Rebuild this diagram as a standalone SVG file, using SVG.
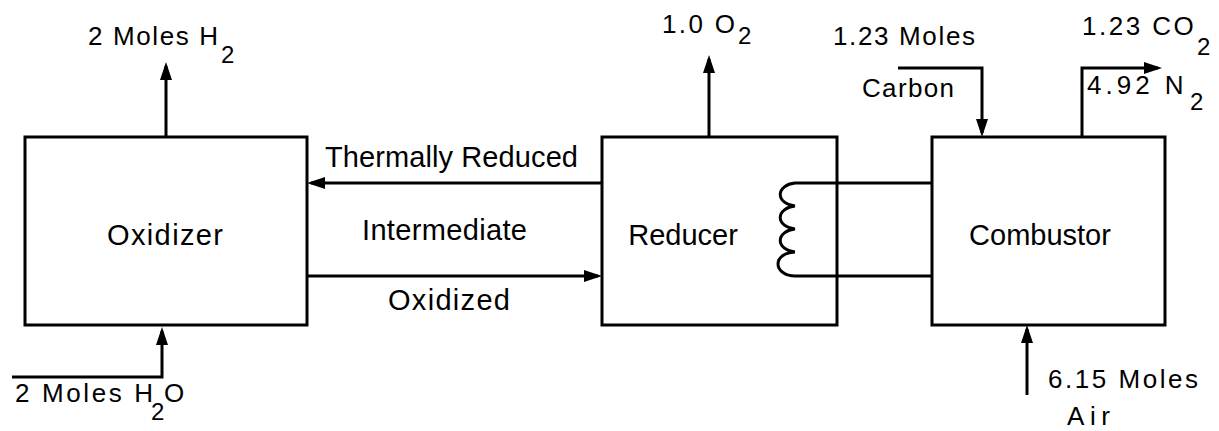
<svg xmlns="http://www.w3.org/2000/svg" width="1219" height="431" viewBox="0 0 1219 431">
<style>
.box{fill:none;stroke:#000;stroke-width:3}
.ln{fill:none;stroke:#000;stroke-width:3;stroke-linejoin:miter}
.t{font-family:"Liberation Sans",Arial,sans-serif;font-size:26px;fill:#000}
.b{font-family:"Liberation Sans",Arial,sans-serif;font-size:29px;fill:#000}
.s{font-size:24px;letter-spacing:0}
</style>
<defs>
<marker id="ah" viewBox="0 0 18 12" markerWidth="18" markerHeight="12" refX="14" refY="6" orient="auto" markerUnits="userSpaceOnUse">
<path d="M0,0 L18,6 L0,12 z" fill="#000"/>
</marker>
</defs>
<rect width="1219" height="431" fill="#fff"/>
<g id="oxidizer">
<rect class="box" x="25" y="137" width="282" height="188"/>
<text class="b" x="107" y="245" textLength="116" lengthAdjust="spacing">Oxidizer</text>
</g>
<g id="reducer">
<rect class="box" x="602" y="137" width="235" height="188"/>
<text class="b" x="683" y="245" text-anchor="middle">Reducer</text>
</g>
<g id="combustor">
<rect class="box" x="932" y="137" width="233" height="188"/>
<text class="b" x="1040" y="245" text-anchor="middle">Combustor</text>
</g>
<g id="connectors">
<line class="ln" x1="166" y1="137" x2="166" y2="66" marker-end="url(#ah)"/>
<line class="ln" x1="709" y1="137" x2="709" y2="59" marker-end="url(#ah)"/>
<line class="ln" x1="602" y1="183" x2="311" y2="183" marker-end="url(#ah)"/>
<line class="ln" x1="307" y1="276" x2="598" y2="276" marker-end="url(#ah)"/>
<polyline class="ln" points="12,377 162,377 162,331" marker-end="url(#ah)"/>
<polyline class="ln" points="898,68 982,68 982,133" marker-end="url(#ah)"/>
<polyline class="ln" points="1082,137 1082,68 1158,68" marker-end="url(#ah)"/>
<line class="ln" x1="1027" y1="395" x2="1027" y2="329" marker-end="url(#ah)"/>
<path class="ln" d="M932,183 H795 A17,11.6 0 0 0 795,206 A17,11.6 0 0 0 795,229 A17,11.6 0 0 0 795,252 A17,12 0 0 0 795,276 H932"/>
</g>
<g id="labels">
<text class="t"><tspan x="88" y="45" textLength="130" lengthAdjust="spacing">2 Moles H</tspan><tspan class="s" x="221" y="63">2</tspan></text>
<text class="t"><tspan x="662" y="33" textLength="73" lengthAdjust="spacing">1.0 O</tspan><tspan class="s" x="738" y="44">2</tspan></text>
<text class="t" x="833" y="45" textLength="142" lengthAdjust="spacing">1.23 Moles</text>
<text class="t" x="862" y="97" textLength="92" lengthAdjust="spacing">Carbon</text>
<text class="t" style="letter-spacing:2.5px"><tspan x="1082" y="35">1.23 CO</tspan><tspan class="s" x="1197" y="55">2</tspan></text>
<text class="t" style="letter-spacing:4px"><tspan x="1087" y="94">4.92 N</tspan><tspan class="s" x="1190" y="110">2</tspan></text>
<text class="b" x="325" y="167" textLength="253" lengthAdjust="spacing">Thermally Reduced</text>
<text class="b" x="362" y="240" textLength="165" lengthAdjust="spacing">Intermediate</text>
<text class="b" x="388" y="310" textLength="122" lengthAdjust="spacing">Oxidized</text>
<text class="t"><tspan x="15" y="402" textLength="138" lengthAdjust="spacing">2 Moles H</tspan><tspan class="s" x="151" y="420">2</tspan><tspan x="164" y="402">O</tspan></text>
<text class="t" x="1048" y="388" textLength="150" lengthAdjust="spacing">6.15 Moles</text>
<text class="t" x="1067" y="425" textLength="43" lengthAdjust="spacing">Air</text>
</g>
</svg>
